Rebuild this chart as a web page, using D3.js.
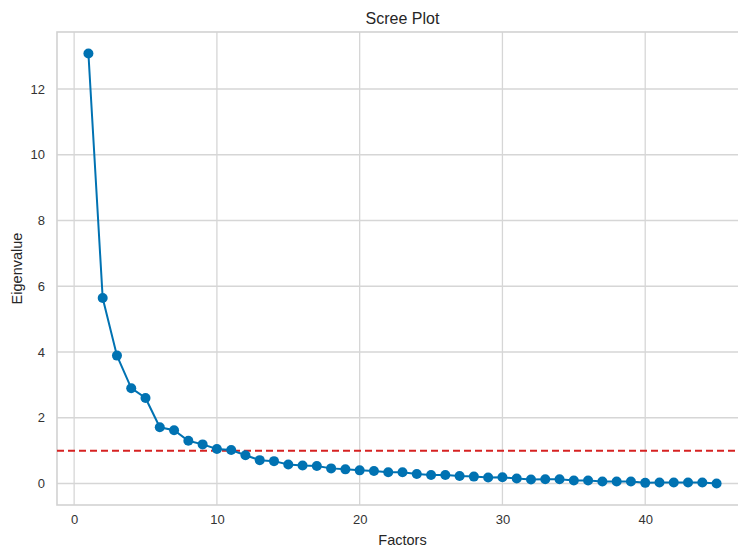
<!DOCTYPE html>
<html>
<head>
<meta charset="utf-8">
<script src="https://cdn.jsdelivr.net/npm/d3@7"></script>
<style>
  body { margin: 0; background: #fff; }
  svg { display: block; overflow: hidden; }
</style>
</head>
<body>
<div id="chart"></div>
<script>
// scree plot data
const factors = d3.range(1, 46);
const eigenvalues = [
  13.08, 5.64, 3.89, 2.90, 2.60, 1.71, 1.62, 1.30, 1.19, 1.05,
  1.02, 0.86, 0.71, 0.68, 0.58, 0.55, 0.53, 0.46, 0.43, 0.40,
  0.38, 0.34, 0.34, 0.29, 0.26, 0.26, 0.23, 0.21, 0.18, 0.19,
  0.15, 0.12, 0.13, 0.13, 0.09, 0.09, 0.06, 0.06, 0.06, 0.02,
  0.03, 0.03, 0.03, 0.03, 0.00
];
const xTicks = [0, 10, 20, 30, 40];
const yTicks = [0, 2, 4, 6, 8, 10, 12];
const threshold = 1;

const margin = {top: 32, right: -10, bottom: 43, left: 57};
const width = 738, height = 548;

const svg = d3.select("#chart").append("svg")
  .attr("width", width).attr("height", height);

const w = width - margin.left - margin.right;
const h = height - margin.top - margin.bottom;
const g = svg.append("g").attr("transform", `translate(${margin.left}, ${margin.top})`);

// matplotlib style 5% margins
const xPad = (45 - 1) * 0.05;
const yMax = d3.max(eigenvalues), yMin = d3.min(eigenvalues);
const yPad = (yMax - yMin) * 0.05;

let x = d3.scaleLinear().domain([1 - xPad, 45 + xPad]).range([0, w]);
let y = d3.scaleLinear().domain([yMin - yPad, yMax + yPad]).range([h, 0]);

const gridColor = "#d6d6d6";

// grid
g.append("g")
  .selectAll("line")
  .data(xTicks)
  .join("line")
    .attr("x1", d => x(d)).attr("x2", d => x(d))
    .attr("y1", 0).attr("y2", h)
    .attr("stroke", gridColor).attr("stroke-width", 1.3);

g.append("g")
  .selectAll("line")
  .data(yTicks)
  .join("line")
    .attr("x1", 0).attr("x2", w)
    .attr("y1", d => y(d)).attr("y2", d => y(d))
    .attr("stroke", gridColor).attr("stroke-width", 1.3);

// frame
g.append("rect")
  .attr("x", 0).attr("y", 0).attr("width", w).attr("height", h)
  .attr("fill", "none").attr("stroke", "#d2d2d2").attr("stroke-width", 1.6);

// axes, no tick marks
const xAxis = g.append("g").attr("transform", `translate(0, ${h})`)
  .call(d3.axisBottom(x).tickValues(xTicks).tickSize(0).tickPadding(10));
const yAxis = g.append("g")
  .call(d3.axisLeft(y).tickValues(yTicks).tickSize(0).tickPadding(12));

[xAxis, yAxis].forEach(a => {
  a.select(".domain").remove();
  a.selectAll("text")
    .attr("font-family", "Liberation Sans, Arial, sans-serif")
    .attr("font-size", "13px")
    .attr("fill", "#333");
});

// threshold line
g.append("line")
  .attr("x1", 0).attr("x2", w)
  .attr("y1", y(threshold)).attr("y2", y(threshold))
  .attr("stroke", "#d62222").attr("stroke-width", 2)
  .attr("stroke-dasharray", "7,4");

// eigenvalue line + markers
const pts = factors.map((f, i) => ({f, v: eigenvalues[i]}));

g.append("path")
  .datum(pts)
  .attr("d", d3.line().x(d => x(d.f)).y(d => y(d.v)))
  .attr("fill", "none")
  .attr("stroke", "#0072b2")
  .attr("stroke-width", 2);

g.append("g")
  .selectAll("circle")
  .data(pts)
  .join("circle")
    .attr("cx", d => x(d.f))
    .attr("cy", d => y(d.v))
    .attr("r", 5)
    .attr("fill", "#0072b2");

// labels
const font = "Liberation Sans, Arial, sans-serif";
svg.append("text")
  .attr("x", margin.left + w / 2)
  .attr("y", 24)
  .attr("text-anchor", "middle")
  .attr("font-family", font)
  .attr("font-size", "16px")
  .attr("fill", "#262626")
  .text("Scree Plot");

svg.append("text")
  .attr("x", margin.left + w / 2)
  .attr("y", 545)
  .attr("text-anchor", "middle")
  .attr("font-family", font)
  .attr("font-size", "14.5px")
  .attr("fill", "#262626")
  .text("Factors");

svg.append("text")
  .attr("transform", `translate(22, ${margin.top + h / 2}) rotate(-90)`)
  .attr("text-anchor", "middle")
  .attr("font-family", font)
  .attr("font-size", "14.5px")
  .attr("fill", "#262626")
  .text("Eigenvalue");
</script>
</body>
</html>
